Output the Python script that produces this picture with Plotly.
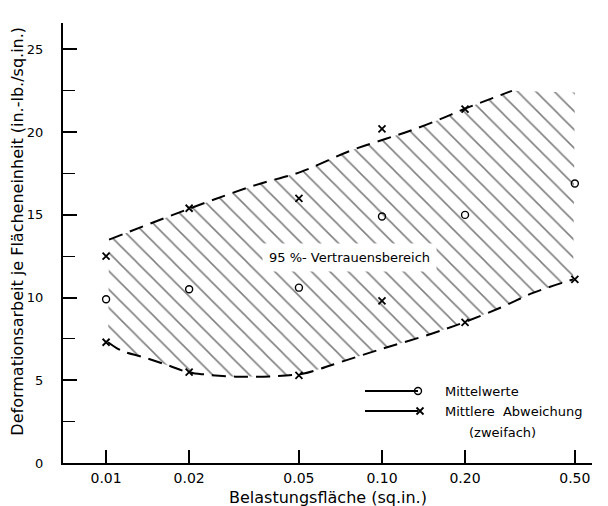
import math
import plotly.graph_objects as go

# ---- data ----
area = [0.01, 0.02, 0.05, 0.10, 0.20, 0.50]
area_labels = ["0.01", "0.02", "0.05", "0.10", "0.20", "0.50"]
mean_vals = [9.9, 10.5, 10.6, 14.9, 15.0, 16.9]
dev_upper = [12.5, 15.4, 16.0, 20.2, 21.4, None]
dev_lower = [7.3, 5.5, 5.3, 9.8, 8.5, 11.1]

# 95 % confidence band boundaries
upper_x = [0.01025, 0.0202, 0.0348, 0.0508, 0.0774, 0.1034, 0.1273, 0.1634, 0.1986, 0.2958]
upper_y = [13.5, 15.4, 16.8, 17.6, 18.9, 19.6, 20.1, 20.8, 21.4, 22.5]
lower_x = [0.01017, 0.01134, 0.01363, 0.01679, 0.01968, 0.02288, 0.0294, 0.0411,
           0.05157, 0.05991, 0.07077, 0.1, 0.1503, 0.1981, 0.2697, 0.3547, 0.4931]
lower_y = [7.3, 6.8, 6.4, 5.9, 5.5, 5.35, 5.22, 5.25, 5.4, 5.7, 6.1, 6.9, 7.8, 8.5, 9.4, 10.3, 11.1]
band_top_right = (0.5, 22.4)

yticks = [0, 5, 10, 15, 20, 25]

x_title = "Belastungsfläche (sq.in.)"
y_title = "Deformationsarbeit je Flächeneinheit (in.-lb./sq.in.)"

FONT = "DejaVu Sans"
INK = "#000000"

fig = go.Figure()

# hatched band
poly_x = upper_x + [band_top_right[0]] + lower_x[::-1]
poly_y = upper_y + [band_top_right[1]] + lower_y[::-1]
fig.add_trace(go.Scatter(
    x=poly_x, y=poly_y, mode="lines", fill="toself",
    line=dict(width=0, color="rgba(0,0,0,0)"),
    fillcolor="rgba(0,0,0,0)",
    fillpattern=dict(shape="\\", size=13, solidity=0.12, fgcolor="#000000",
                     bgcolor="rgba(0,0,0,0)"),
    hoverinfo="skip", showlegend=False))

# dashed boundaries
for bx, by in ((upper_x, upper_y), (lower_x, lower_y)):
    fig.add_trace(go.Scatter(x=bx, y=by, mode="lines",
                             line=dict(color=INK, width=2, dash="14px,8px", shape="spline"),
                             showlegend=False, hoverinfo="skip"))

# points
fig.add_trace(go.Scatter(x=area, y=mean_vals, mode="markers",
                         marker=dict(symbol="circle-open", size=7, color=INK,
                                     line=dict(width=1.4)),
                         showlegend=False))
fig.add_trace(go.Scatter(x=area, y=dev_upper, mode="markers",
                         marker=dict(symbol="x-thin-open", size=7, color=INK,
                                     line=dict(width=1.8)),
                         showlegend=False))
fig.add_trace(go.Scatter(x=area, y=dev_lower, mode="markers",
                         marker=dict(symbol="x-thin-open", size=7, color=INK,
                                     line=dict(width=1.8)),
                         showlegend=False))

# custom legend on an overlay axis in pixel units
leg_line_x = [365, 418]
fig.add_trace(go.Scatter(x=leg_line_x, y=[391, 391], xaxis="x2", yaxis="y2", mode="lines",
                         line=dict(color=INK, width=1.8), showlegend=False, hoverinfo="skip"))
fig.add_trace(go.Scatter(x=[leg_line_x[1]], y=[391], xaxis="x2", yaxis="y2", mode="markers",
                         marker=dict(symbol="circle-open", size=7, color=INK, line=dict(width=1.4)),
                         showlegend=False, hoverinfo="skip"))
fig.add_trace(go.Scatter(x=leg_line_x, y=[411, 411], xaxis="x2", yaxis="y2", mode="lines",
                         line=dict(color=INK, width=1.8), showlegend=False, hoverinfo="skip"))
fig.add_trace(go.Scatter(x=[leg_line_x[1] + 2], y=[411], xaxis="x2", yaxis="y2", mode="markers",
                         marker=dict(symbol="x-thin-open", size=7, color=INK, line=dict(width=1.8)),
                         showlegend=False, hoverinfo="skip"))

annots = [
    dict(x=math.log10(0.076), y=12.4, xref="x", yref="y", text="95 %- Vertrauensbereich",
         showarrow=False, font=dict(family=FONT, size=13, color=INK),
         bgcolor="white", borderpad=6),
    dict(x=443, y=391, xref="x2", yref="y2", text="Mittelwerte", xanchor="left",
         showarrow=False, font=dict(family=FONT, size=13, color=INK)),
    dict(x=443, y=411, xref="x2", yref="y2", text="Mittlere&nbsp;&nbsp;Abweichung", xanchor="left",
         showarrow=False, font=dict(family=FONT, size=13, color=INK)),
    dict(x=467, y=432, xref="x2", yref="y2", text="(zweifach)", xanchor="left",
         showarrow=False, font=dict(family=FONT, size=13, color=INK)),
    # axis titles
    dict(x=0.5, y=-0.079, xref="paper", yref="paper", text=x_title, showarrow=False,
         xanchor="center", yanchor="middle", font=dict(family=FONT, size=16, color=INK)),
    dict(x=-0.086, y=0.527, xref="paper", yref="paper", text=y_title, showarrow=False,
         textangle=-90, xanchor="center", yanchor="middle",
         font=dict(family=FONT, size=16, color=INK)),
]

fig.update_layout(
    width=608, height=506,
    margin=dict(l=63, r=16, t=23, b=43),
    paper_bgcolor="white", plot_bgcolor="white",
    font=dict(family=FONT, size=14, color=INK),
    annotations=annots,
    xaxis=dict(type="log", range=[math.log10(0.00698), math.log10(0.577)],
               tickvals=area, ticktext=area_labels, ticks="inside", ticklen=13,
               tickwidth=1.6, tickcolor=INK, showline=True, linecolor=INK,
               linewidth=2, showgrid=False, zeroline=False, ticklabelstandoff=1,
               automargin=False,
               tickfont=dict(family=FONT, size=14, color=INK)),
    yaxis=dict(range=[0, 26.6], tickvals=yticks, ticks="inside", ticklen=14, tickwidth=1.6,
               tickcolor=INK, showline=True, linecolor=INK, linewidth=2,
               showgrid=False, zeroline=False, ticklabelstandoff=15, automargin=False,
               minor=dict(dtick=2.5, ticks="inside", ticklen=12, tickwidth=1.3, tickcolor=INK),
               tickfont=dict(family=FONT, size=13, color=INK)),
    xaxis2=dict(overlaying="x", range=[63, 592], visible=False, fixedrange=True),
    yaxis2=dict(overlaying="y", range=[463, 23], visible=False, fixedrange=True),
)

fig.write_html("out.html")
